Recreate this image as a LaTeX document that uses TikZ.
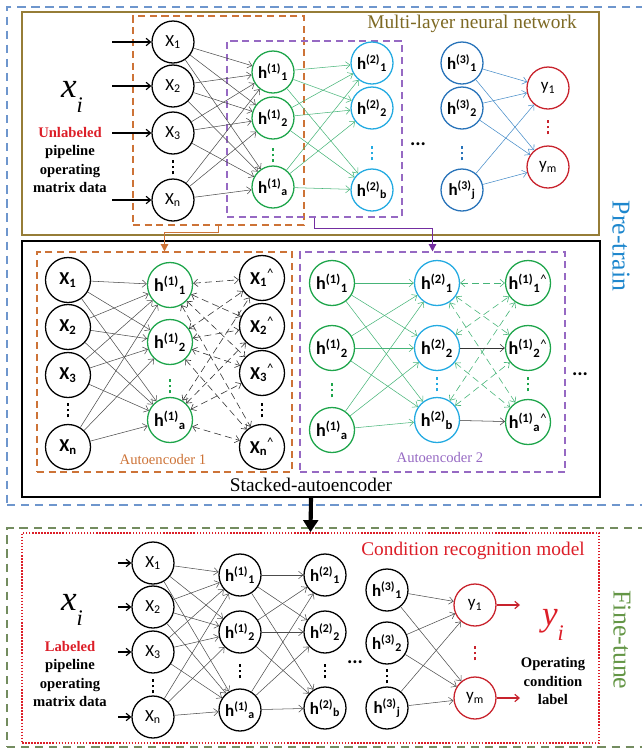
\documentclass[tikz,border=0pt]{standalone}
\usepackage{fontspec}
\setmainfont{Liberation Serif}
\newfontfamily\nodefont{Carlito}
\usetikzlibrary{arrows.meta,fit,calc}
\definecolor{pretext}{RGB}{30,135,205}
\definecolor{pretrain}{RGB}{110,150,205}
\definecolor{finetune}{RGB}{115,140,95}
\definecolor{finetext}{RGB}{100,150,70}
\definecolor{mlpbrown}{RGB}{150,125,55}
\definecolor{titleolive}{RGB}{125,105,35}
\definecolor{aeorange}{RGB}{205,115,55}
\definecolor{aepurple}{RGB}{150,105,195}
\definecolor{arrowpurple}{RGB}{115,45,160}
\definecolor{hgreen}{RGB}{30,165,75}
\definecolor{linkgreen}{RGB}{70,180,120}
\definecolor{hcyan}{RGB}{35,170,225}
\definecolor{hblue}{RGB}{40,115,185}
\definecolor{linkblue}{RGB}{70,140,200}
\definecolor{outred}{RGB}{200,35,45}
\definecolor{titlered}{RGB}{220,30,40}
\tikzset{
  >={Straight Barb[length=1.3mm,width=2.2mm]},
  unit/.style={circle,draw=#1,line width=1.1pt,minimum size=1.26cm,inner sep=0pt,
    font=\nodefont\fontsize{14.5}{14.5}\selectfont},
  unit/.default=black,
  big unit/.style={unit=#1,minimum size=1.35cm,font=\nodefont\fontsize{15.5}{15.5}\selectfont},
  big unit/.default=black,
  link/.style={->,draw=#1,line width=0.45pt},
  link/.default=black!70,
  recon/.style={<->,draw=#1,line width=0.5pt,dash pattern=on 6pt off 3.5pt},
  recon/.default=black!80,
  feed/.style={->,line width=1pt,draw=#1},
  feed/.default=black,
  panel/.style={draw=#1,line width=0.9pt,dash pattern=on 7pt off 5pt,inner sep=0pt},
  block/.style={draw=#1,line width=1.5pt,inner sep=0pt},
  aebox/.style={draw=#1,line width=0.9pt,dash pattern=on 6pt off 4pt,inner sep=0pt},
  dots/.style={text=#1,inner sep=0pt},
  dots/.default=black,
  hdots/.style={font=\nodefont\bfseries\fontsize{17}{17}\selectfont,inner sep=0pt},
  title/.style={text=#1,font=\fontsize{16.5}{16.5}\selectfont},
  title/.default=black,
  stage/.style={text=#1,font=\fontsize{22}{22}\selectfont,rotate=-90},
  data/.style={font=\bfseries\fontsize{12.5}{15.5}\selectfont,align=center},
  bigx/.style={text=#1,font=\fontsize{30}{30}\selectfont\itshape},
  bigx/.default=black,
}
\newcommand{\hid}[2]{\textbf{h}\textsuperscript{\textbf{(#1)}}\textsubscript{\textbf{#2}}}
\newcommand{\sub}[1]{\raisebox{-0.45em}{\fontsize{19}{19}\selectfont #1}}
\newcommand{\vdotsx}{\vbox{\hrule width 2.4pt height 2.4pt\vskip 2.6pt
  \hrule width 2.4pt height 2.4pt\vskip 2.6pt\hrule width 2.4pt height 2.4pt}}

\begin{document}
\begin{tikzpicture}[x=0.03cm,y=-0.03cm]
  \useasboundingbox (0,0) rectangle (642,748);
  \clip (0,0) rectangle (642,748);
  % pre-train: multi-layer network
  \node[panel=pretrain,fit={(7,7)(660,505)}] (pre) {};
  \node[block=mlpbrown,fit={(22,12)(599,235)}] (mlp) {};
  \node[title=titleolive] (mlptitle) at (472,24) {Multi-layer neural network};
  \node[aebox=aeorange,fit={(133,16)(304,225)}] (encA) {};
  \node[aebox=aepurple,fit={(227,41)(402,217)}] (encB) {};
  \node[stage=pretext] (pretitle) at (621,246) {Pre-train};

  \node[bigx] (txi) at (72,97) {x\sub{i}};
  \node[data] (tdata) at (70,160) {\textcolor{titlered}{Unlabeled}\\pipeline\\operating\\matrix data};

  \foreach \i/\y in {1/42,2/86,3/133,n/200}{
    \node[unit] (tx\i) at (173,\y) {X\textsubscript{\i}};
    \coordinate (tin\i) at (112,\y);
    \draw[feed] (tin\i) -- (tx\i);
  }
  \node[dots] (txd) at (173,167) {\vdotsx};
  \foreach \i/\y in {1/72,2/118,a/187}
    \node[unit=hgreen] (ta\i) at (273,\y) {\hid{1}{\i}};
  \node[dots=hgreen] (tad) at (273,155) {\vdotsx};
  \foreach \i/\y in {1/63,2/108,b/190}
    \node[unit=hcyan] (tb\i) at (372,\y) {\hid{2}{\i}};
  \node[dots=hcyan] (tbd) at (372,153) {\vdotsx};
  \node[hdots] (tmid) at (418,144) {...};
  \foreach \i/\y in {1/63,2/108,j/190}
    \node[unit=hblue] (tc\i) at (462,\y) {\hid{3}{\i}};
  \node[dots=hblue] (tcd) at (462,153) {\vdotsx};
  \foreach \i/\y in {1/88,m/167}
    \node[unit=outred] (ty\i) at (548,\y) {y\textsubscript{\i}};
  \node[dots=outred] (tyd) at (548,127) {\vdotsx};

  \foreach \a in {1,2,3,n} \foreach \b in {1,2,a} \draw[link] (tx\a) -- (ta\b);
  \foreach \a in {1,2,a} \foreach \b in {1,2,b} \draw[link=linkgreen] (ta\a) -- (tb\b);
  \foreach \a in {1,2,j} \foreach \b in {1,m} \draw[link=linkblue] (tc\a) -- (ty\b);

  % pre-train: stacked autoencoder
  \node[block=black,fit={(22,241)(600,497)}] (sae) {};
  \node[title] (saetitle) at (311,485) {Stacked-autoencoder};
  \node[aebox=aeorange,fit={(37,252)(292,472)}] (aeone) {};
  \node[aebox=aepurple,fit={(300,252)(565,472)}] (aetwo) {};
  \node[text=aeorange,font=\fontsize{12.5}{12.5}\selectfont] (aeonetitle) at (163,459) {Autoencoder 1};
  \node[text=aepurple,font=\fontsize{12.5}{12.5}\selectfont] (aetwotitle) at (440,457) {Autoencoder 2};
  \draw[line width=1.1pt,draw=aeorange,-{Triangle[length=2.2mm,width=2.2mm]}] (encA.south) -- ++(0,7) -| (aeone.north);
  \draw[line width=1.1pt,draw=arrowpurple,-{Triangle[length=2.2mm,width=2.2mm]}] (encB.south) -- ++(0,11) -| (aetwo.north);

  \foreach \i/\y in {1/280,2/327,3/375,n/447}
    \node[big unit] (mx\i) at (68,\y) {\textbf{X}\textsubscript{\textbf{\i}}};
  \node[dots] (mxd) at (68,410) {\vdotsx};
  \foreach \i/\y in {1/285,2/342,a/420}
    \node[big unit=hgreen] (ma\i) at (170,\y) {\hid{1}{\i}};
  \node[dots=hgreen] (mad) at (170,386) {\vdotsx};
  \foreach \i/\y in {1/278,2/326,3/373,n/447}
    \node[big unit] (mr\i) at (262,\y) {\textbf{X}\textsubscript{\textbf{\i}}\textsuperscript{\textasciicircum}};
  \node[dots] (mrd) at (262,410) {\vdotsx};
  \foreach \a in {1,2,3,n} \foreach \b in {1,2,a} \draw[link] (mx\a) -- (ma\b);
  \foreach \a in {1,2,a} \foreach \b in {1,2,3,n} \draw[recon] (ma\a) -- (mr\b);

  \foreach \i/\y in {1/283,2/348,a/430}
    \node[big unit=hgreen] (mb\i) at (332,\y) {\hid{1}{\i}};
  \node[dots=hgreen] (mbd) at (332,390) {\vdotsx};
  \foreach \i/\y in {1/283,2/348,b/420}
    \node[big unit=hcyan] (mc\i) at (437,\y) {\hid{2}{\i}};
  \node[dots=hcyan] (mcd) at (437,384) {\vdotsx};
  \foreach \i/\y in {1/283,2/348,a/422}
    \node[big unit=hgreen] (ms\i) at (528,\y) {\hid{1}{\i}\textsuperscript{\textasciicircum}};
  \node[dots=hgreen] (msd) at (528,384) {\vdotsx};
  \node[hdots] (mmid) at (580,374) {...};
  \foreach \a in {1,2,a} \foreach \b in {1,2,b} \draw[link=linkgreen] (mb\a) -- (mc\b);
  \foreach \a/\b in {1/1,1/2,1/a,2/1,2/a,b/1,b/2}
    \draw[recon=linkgreen] (mc\a) -- (ms\b);
  \draw[link=black!80] (mc2) -- (ms2);
  \draw[link=black!80] (mcb) -- (msa);

  % fine-tune
  \node[panel=finetune,fit={(7,528)(660,747)}] (fine) {};
  \node[draw=titlered,line width=1.5pt,dash pattern=on 1.3pt off 1.3pt,inner sep=0pt,
    fit={(22,533)(599,743)}] (crm) {};
  \node[title=titlered] (crmtitle) at (473,551) {Condition recognition model};
  \node[stage=finetext] (finetitle) at (622,640) {Fine-tune};
  \draw[line width=3.5pt,-{Triangle[length=3.6mm,width=4.4mm]}] (sae.south) -- (crm.north);

  \node[bigx] (bxi) at (72,610) {x\sub{i}};
  \node[data] (bdata) at (70,674) {\textcolor{titlered}{Labeled}\\pipeline\\operating\\matrix data};

  \foreach \i/\y in {1/563,2/607,3/652,n/717}{
    \node[unit] (bx\i) at (153,\y) {X\textsubscript{\i}};
    \coordinate (bin\i) at (118,\y);
    \draw[feed] (bin\i) -- (bx\i);
  }
  \node[dots] (bxd) at (153,686) {\vdotsx};
  \foreach \i/\y in {1/575,2/632,a/710}
    \node[unit] (ba\i) at (240,\y) {\hid{1}{\i}};
  \node[dots] (bad) at (240,671) {\vdotsx};
  \foreach \i/\y in {1/575,2/632,b/708}
    \node[unit] (bb\i) at (325,\y) {\hid{2}{\i}};
  \node[dots] (bbd) at (325,671) {\vdotsx};
  \node[hdots] (bmid) at (355,662) {...};
  \foreach \i/\y in {1/590,2/643,j/708}
    \node[unit] (bc\i) at (387,\y) {\hid{3}{\i}};
  \node[dots] (bcd) at (387,676) {\vdotsx};
  \foreach \i/\y in {1/605,m/698}{
    \node[unit=outred] (by\i) at (475,\y) {y\textsubscript{\i}};
    \coordinate (bout\i) at (520,\y);
    \draw[feed=outred] (by\i) -- (bout\i);
  }
  \node[dots=outred] (byd) at (475,653) {\vdotsx};
  \node[bigx=titlered] (byi) at (553,625) {y\sub{i}};
  \node[data] (blabel) at (553,681) {Operating\\condition\\label};

  \foreach \a in {1,2,3,n} \foreach \b in {1,2,a} \draw[link] (bx\a) -- (ba\b);
  \foreach \a in {1,2,a} \foreach \b in {1,2,b} \draw[link] (ba\a) -- (bb\b);
  \foreach \a in {1,2,j} \foreach \b in {1,m} \draw[link] (bc\a) -- (by\b);
\end{tikzpicture}
\end{document}
